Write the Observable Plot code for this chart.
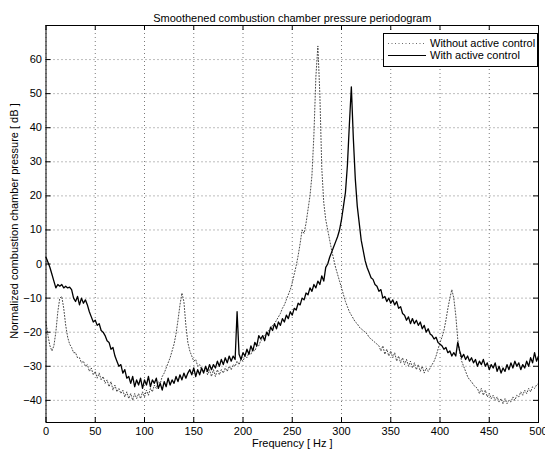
<!DOCTYPE html>
<html>
<head>
<meta charset="utf-8">
<script src="https://cdn.jsdelivr.net/npm/d3@7"></script>
<script src="https://cdn.jsdelivr.net/npm/@observablehq/plot@0.6"></script>
<style>
  html, body { margin: 0; padding: 0; background: #fff; overflow: hidden; }
  #wrap { position: relative; width: 545px; height: 452px; font-family: "Liberation Sans", Arial, sans-serif; }
  #legend { position: absolute; left: 383px; top: 33px; }
  #legend text { font-family: "Liberation Sans", Arial, sans-serif; font-size: 11px; fill: #000; }
</style>
</head>
<body>
<div id="wrap"></div>
<script>
// ---- data ----
const titleText = "Smoothened combustion chamber pressure periodogram";
const xLabel = "Frequency [ Hz ]";
const yLabel = "Normalized combustion chamber pressure [ dB ]";
const seriesNames = ["Without active control", "With active control"];
const xTicks = [0, 50, 100, 150, 200, 250, 300, 350, 400, 450, 500];
const yTicks = [-40, -30, -20, -10, 0, 10, 20, 30, 40, 50, 60];

// frequency grid, Hz (0 to 500, every 2 Hz)
const freq = d3.range(0, 501, 2);

// Without active control [dB]
const withoutCtrl = [
  -17, -21, -24, -25.5, -24, -20, -14, -10, -9.5, -13,          // 0-18
  -18, -21.5, -23.5, -24.5, -26, -26, -27.5, -27.5, -29, -28.5, // 20-38
  -30, -29.5, -31.5, -30.5, -32.5, -31.5, -33.5, -32, -34, -33, // 40-58
  -35, -34, -36, -34.5, -37, -35.5, -37.5, -36.5, -38, -37,     // 60-78
  -39, -37.5, -39.5, -38, -40, -38, -39.5, -38, -39.5, -37.5,   // 80-98
  -39, -37, -38.5, -36.5, -37.5, -35.5, -36.5, -34.5, -35, -33, // 100-118
  -32, -30.5, -29, -27.5, -25.5, -23.5, -20.5, -16.5, -12, -8.5, // 120-138
  -11, -18, -23, -25.5, -27, -28.5, -28, -30, -29.5, -31,       // 140-158
  -31.5, -30.5, -32.5, -31, -33, -31, -33, -31, -32.5, -31,     // 160-178
  -32, -30.5, -31.5, -30, -31, -29.5, -30, -28.5, -29.5, -28,   // 180-198
  -28.5, -27, -27.5, -26, -26.5, -25, -25.5, -24, -24, -22.5,   // 200-218
  -22, -21, -20.5, -19.5, -19, -18, -17.5, -16.5, -15.5, -14.5, // 220-238
  -13, -12, -10.5, -9, -7.5, -5.5, -3, -0.5, 2.5, 6,            // 240-258
  10, 9, 12, 16, 20, 26, 38, 55, 64, 50,                        // 260-278
  28, 18, 13, 10, 7, 4, 1.5, -1, -3, -5,                        // 280-298
  -7, -9, -11, -12.5, -14, -15, -16, -17, -17.5, -18.5,         // 300-318
  -19, -19.5, -20, -20.5, -21.5, -22, -22.5, -23, -23.5, -24,   // 320-338
  -25.5, -24, -26.5, -25, -27, -25.5, -27.5, -26, -28.5, -27,   // 340-358
  -29, -27.5, -29.5, -28, -30, -28.5, -30.5, -29, -31, -29.5,   // 360-378
  -31.5, -30, -32, -30.5, -31.5, -30.5, -29.5, -28.5, -27, -25, // 380-398
  -23, -21.5, -19.5, -16.5, -13, -10, -7.5, -10, -15, -22,      // 400-418
  -26, -28.5, -30, -31.5, -33, -34, -34.5, -35.5, -36, -36.5,   // 420-438
  -38, -36.5, -38.5, -37, -39, -38, -39.5, -38.5, -40, -39,     // 440-458
  -40.5, -39.5, -41, -39.5, -41, -40, -40.5, -39, -40, -38.5,   // 460-478
  -39, -37.5, -38.5, -37, -38, -36.5, -37.5, -36, -36.5, -35.5, // 480-498
  -35                                                           // 500
];

// With active control [dB]
const withCtrl = [
  2, 0.5, -1, -3, -5, -7, -6, -6.5, -6, -7,                     // 0-18
  -6.5, -7, -6.8, -7.5, -10, -11, -9.5, -12, -10, -11.5,        // 20-38
  -10.5, -12, -14, -15.5, -17, -16.5, -18, -17.5, -19.5, -20,   // 40-58
  -21, -22.5, -23, -25, -24.5, -27, -28.5, -30, -29.5, -32,     // 60-78
  -31, -33.5, -33, -35, -33, -36, -34, -35.5, -33.5, -36.5,     // 80-98
  -34, -35.5, -33, -36, -34, -35, -33.5, -36.5, -35, -37,       // 100-118
  -34.5, -36, -33.5, -35.5, -34, -35, -33, -34.5, -32.5, -34,   // 120-138
  -32, -33.5, -32, -31, -32.5, -30.5, -33, -31, -32.5, -30.5,   // 140-158
  -32, -30, -31.5, -29.5, -31, -29.5, -30.5, -28.5, -30, -28,   // 160-178
  -29.5, -27.5, -29, -27, -28.5, -27, -28, -14, -26.5, -28,     // 180-198
  -26, -27, -25, -26.5, -24, -25.5, -23, -24, -21, -22,         // 200-218
  -21, -22.5, -20, -21, -18.5, -19.5, -17.5, -19, -17, -18,     // 220-238
  -16, -17, -15, -16, -14, -15, -13, -13.5, -11.5, -12,         // 240-258
  -10, -10.5, -8.5, -9, -7, -8, -6, -7, -5, -6,                 // 260-278
  -3.5, -5, -1, 0, 2, 3.5, 5, 6.5, 8, 10,                       // 280-298
  13, 17, 21, 29, 41, 52, 37, 25, 17, 12,                       // 300-318
  7, 4, 1, -1, -2.5, -4, -4.5, -6, -6.5, -8,                    // 320-338
  -7.5, -10, -9.5, -11, -10, -11.5, -10.5, -12, -11, -13,       // 340-358
  -12.5, -14.5, -15, -16.5, -15.5, -17.5, -16, -17.5, -16.5, -18, // 360-378
  -17, -19, -18, -20, -19, -20.5, -21, -22, -21.5, -23,         // 380-398
  -23.5, -24, -25, -24.5, -26, -25.5, -27, -26, -27, -23,       // 400-418
  -25.5, -27.5, -26.5, -28, -27, -28.5, -27.5, -29, -28, -30,   // 420-438
  -28.5, -29.5, -28, -30, -29, -31, -29.5, -30.5, -29, -31.5,   // 440-458
  -30, -32, -30.5, -31.5, -29.5, -31, -29, -30.5, -28.5, -30,   // 460-478
  -29, -31, -29.5, -30.5, -28.5, -30, -27.5, -29, -26, -28.5,   // 480-498
  -27                                                           // 500
];

// ---- build ----
const rowsWithout = freq.map((f, i) => ({f, v: withoutCtrl[i]}));
const rowsWith = freq.map((f, i) => ({f, v: withCtrl[i]}));

const W = 545, H = 452;
const mL = 45.5, mR = 7, mT = 25, mB = 30;
const innerH = H - mT - mB, innerW = W - mL - mR;
const font = "'Liberation Sans', Arial, Helvetica, sans-serif";

const chart = Plot.plot({
  width: W,
  height: H,
  marginLeft: mL,
  marginRight: mR,
  marginTop: mT,
  marginBottom: mB,
  style: {fontFamily: font, fontSize: "11px", color: "#000", background: "#fff", overflow: "visible"},
  x: {domain: [0, 500], ticks: xTicks, tickSize: 0, tickPadding: 5, label: null},
  y: {domain: [-46.5, 70], ticks: yTicks, tickSize: 0, tickPadding: 4, label: null},
  marks: [
    // dotted grid
    Plot.ruleX(xTicks, {x: d => d, stroke: "#000", strokeWidth: 0.7, strokeDasharray: "1,3", strokeOpacity: 0.75}),
    Plot.ruleY(yTicks, {y: d => d, stroke: "#000", strokeWidth: 0.7, strokeDasharray: "1,3", strokeOpacity: 0.75}),
    // data
    Plot.line(rowsWithout, {x: "f", y: "v", stroke: "#333", strokeWidth: 0.9, strokeDasharray: "1,2"}),
    Plot.line(rowsWith, {x: "f", y: "v", stroke: "#000", strokeWidth: 1.3}),
    // inward tick marks (bottom, top, left, right)
    Plot.tickX(xTicks, {x: d => d, stroke: "#000", insetTop: innerH - 5}),
    Plot.tickX(xTicks, {x: d => d, stroke: "#000", insetBottom: innerH - 5}),
    Plot.tickY(yTicks, {y: d => d, stroke: "#000", insetRight: innerW - 5}),
    Plot.tickY(yTicks, {y: d => d, stroke: "#000", insetLeft: innerW - 5}),
    Plot.frame({stroke: "#000", strokeWidth: 1}),
    // title and axis labels
    Plot.text([titleText], {text: d => d, frameAnchor: "top", dy: -11, fontSize: 11, fill: "#000"}),
    Plot.text([xLabel], {text: d => d, frameAnchor: "bottom", dy: 24, fontSize: 11, fill: "#000"}),
    Plot.text([yLabel], {text: d => d, frameAnchor: "left", textAnchor: "middle", dx: -32, dy: -3, rotate: -90, fontSize: 11, fill: "#000"})
  ]
});
document.getElementById("wrap").appendChild(chart);

// legend box (inside the axes, top right)
const lg = d3.select("#wrap").append("svg")
  .attr("id", "legend").attr("width", 156).attr("height", 35);
lg.append("rect").attr("x", 0.5).attr("y", 0.5).attr("width", 154).attr("height", 33)
  .attr("fill", "#fff").attr("stroke", "#000").attr("stroke-width", 1);
lg.append("line").attr("x1", 5).attr("x2", 43).attr("y1", 10.5).attr("y2", 10.5)
  .attr("stroke", "#444").attr("stroke-width", 0.8).attr("stroke-dasharray", "1,2.5");
lg.append("line").attr("x1", 5).attr("x2", 43).attr("y1", 22.5).attr("y2", 22.5)
  .attr("stroke", "#000").attr("stroke-width", 1);
lg.append("text").attr("x", 47).attr("y", 10.5).attr("dy", "0.35em").text(seriesNames[0]);
lg.append("text").attr("x", 47).attr("y", 22.5).attr("dy", "0.35em").text(seriesNames[1]);
</script>
</body>
</html>
